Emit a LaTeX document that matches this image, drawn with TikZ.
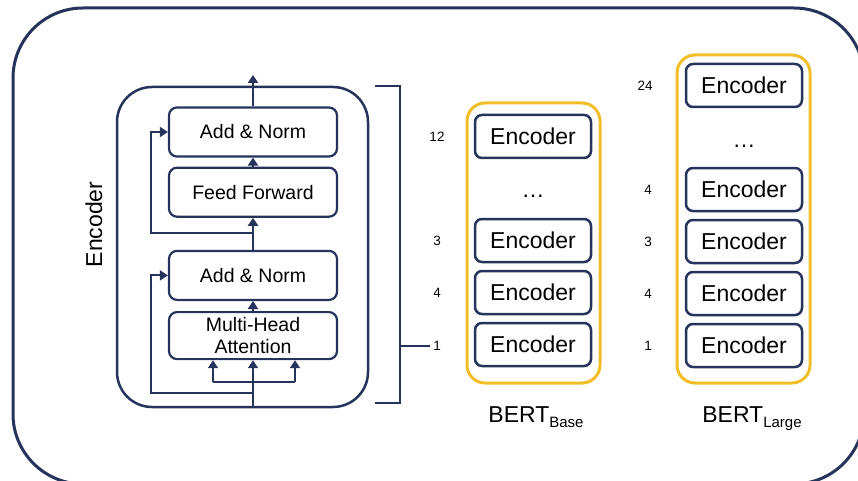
\documentclass[tikz,border=0pt]{standalone}
\usepackage{fontspec}
\setmainfont{Liberation Sans}
\usetikzlibrary{positioning, arrows.meta}
\definecolor{navy}{RGB}{38,52,92}
\definecolor{bertgold}{RGB}{242,190,40}
\newcommand{\bertsub}[1]{\raisebox{-5pt}{\fontsize{15}{15}\selectfont #1}}
\tikzset{
    outerbox/.style={draw=navy, line width=3pt, rounded corners=70pt},
    encbox/.style={rectangle, draw=navy, line width=2.5pt, rounded corners=35pt, minimum width=251pt, minimum height=320pt},
    layer/.style={rectangle, draw=navy, line width=2.2pt, rounded corners=8pt, minimum width=168pt, minimum height=49pt, font=\fontsize{19.5}{24}\selectfont, align=center},
    enc/.style={rectangle, draw=navy, line width=2.5pt, rounded corners=7pt, minimum width=116pt, minimum height=43pt, font=\fontsize{23}{27}\selectfont},
    stack/.style={rectangle, draw=bertgold, line width=3pt, rounded corners=18pt},
    num/.style={font=\fontsize{13.5}{15}\selectfont},
    big/.style={font=\fontsize{23}{27}\selectfont},
    arr/.style={draw=navy, line width=2pt, -{Triangle[length=8pt,width=10pt]}},
    wire/.style={draw=navy, line width=2pt},
}

\begin{document}
\begin{tikzpicture}[x=1pt, y=1pt]
    \useasboundingbox (0,0) rectangle (858,480);
    \draw[outerbox] (13,472) rectangle (864,-4);

    % one encoder layer
    \node[encbox] (enc) at (242.5,233) {};
    \node[big, rotate=90] (enclabel) at (94,255.5) {Encoder};
    \node[layer] (an1) at (253,348) {Add \& Norm};
    \node[layer] (ff) [below=9pt of an1] {Feed Forward};
    \node[layer] (an2) [below=32pt of ff] {Add \& Norm};
    \node[layer, minimum height=47pt] (mha) [below=10pt of an2] {Multi-Head\\[-2pt]Attention};

    \coordinate (top) at (253,405);
    \draw[arr] (an1) -- (top);
    \draw[arr] (ff) -- (an1);
    \draw[arr] (an2) -- (ff);
    \draw[arr] (mha) -- (an2);

    % residual paths
    \coordinate (split1) at (253,247);
    \coordinate (skip1) at (151,247);
    \draw[arr] (split1) -- (skip1) |- (an1.west);
    \coordinate (in) at (enc.south -| mha.south);
    \coordinate (split2) at (253,87);
    \coordinate (skip2) at (151,87);
    \draw[wire] (in) -- (split2);
    \draw[arr] (split2) -- (skip2) |- (an2.west);

    % inputs of the attention
    \coordinate (fork) at (253,98);
    \coordinate (forkl) at (213,98);
    \coordinate (forkr) at (295,98);
    \draw[wire] (split2) -- (fork);
    \draw[wire] (forkl) -- (forkr);
    \draw[arr] (forkl) -- (forkl |- mha.south);
    \draw[arr] (fork) -- (mha);
    \draw[arr] (forkr) -- (forkr |- mha.south);

    % bracket
    \draw[wire, line width=2.5pt] (375,394) -- (400,394) -- (400,77) -- (375,77);

    % BERT base
    \node[stack, minimum width=133pt, minimum height=280pt] (base) at (533.5,237) {};
    \node[enc] (b12) at (533,343.5) {Encoder};
    \node[big] (bdots) at (533,284) {\dots};
    \node[enc] (b3) at (533,239.5) {Encoder};
    \node[enc] (b4) [below=6.5pt of b3] {Encoder};
    \node[enc] (b1) [below=6.5pt of b4] {Encoder};
    \node[num] (nb12) at (437,0 |- b12) {12};
    \node[num] (nb3) at (437,0 |- b3) {3};
    \node[num] (nb4) at (437,0 |- b4) {4};
    \node[num] (nb1) at (437,134) {1};
    \draw[wire, line width=2.5pt] (400,134) -- (nb1.west);
    \node[big, anchor=base] (baselabel) at (536,58) {BERT\bertsub{Base}};

    % BERT large
    \node[stack, minimum width=133pt, minimum height=328pt] (large) at (743.5,261) {};
    \node[enc] (l24) at (744,394.5) {Encoder};
    \node[big] (ldots) at (744,334) {\dots};
    \node[enc] (l4b) at (744,290.5) {Encoder};
    \node[enc] (l3) [below=6.5pt of l4b] {Encoder};
    \node[enc] (l4) [below=6.5pt of l3] {Encoder};
    \node[enc] (l1) [below=6.5pt of l4] {Encoder};
    \node[num] (nl24) at (645,0 |- l24) {24};
    \node[num] (nl4b) at (648,0 |- l4b) {4};
    \node[num] (nl3) at (648,0 |- l3) {3};
    \node[num] (nl4) at (648,0 |- l4) {4};
    \node[num] (nl1) at (648,0 |- l1) {1};
    \node[big, anchor=base] (largelabel) at (752,58) {BERT\bertsub{Large}};
\end{tikzpicture}
\end{document}
